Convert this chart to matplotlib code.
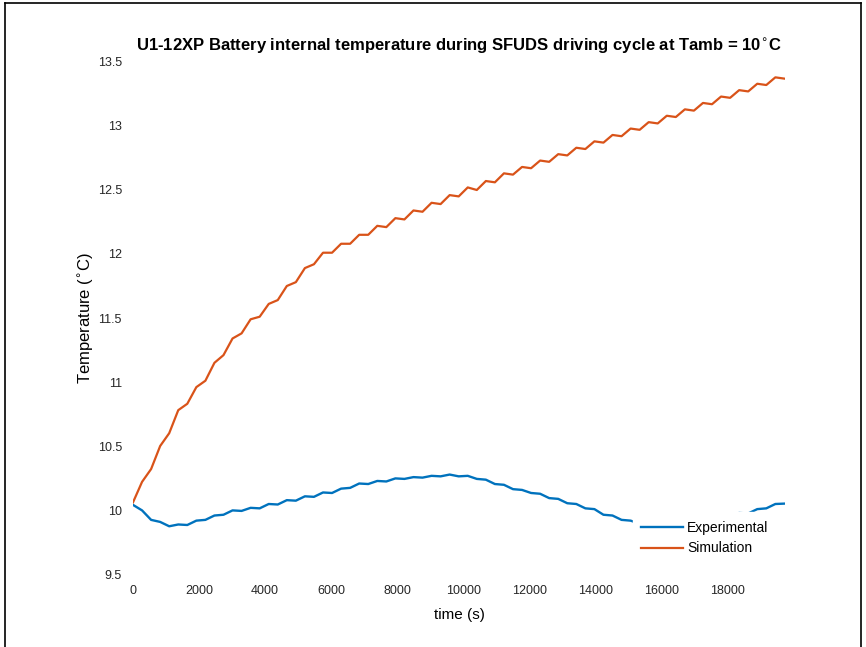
import numpy as np
import matplotlib
matplotlib.use("Agg")
import matplotlib.pyplot as plt
from matplotlib.lines import Line2D

# sample step of the read-off points (s)
step_s = 274

experimental = [
    10.04, 9.997, 9.923, 9.907, 9.873, 9.887, 9.883, 9.917, 9.923, 9.957,
    9.963, 9.997, 9.993, 10.017, 10.013, 10.047, 10.043, 10.077, 10.073, 10.107,
    10.103, 10.137, 10.133, 10.167, 10.173, 10.207, 10.203, 10.227, 10.223, 10.247,
    10.243, 10.257, 10.253, 10.267, 10.263, 10.277, 10.263, 10.267, 10.243, 10.237,
    10.203, 10.197, 10.163, 10.157, 10.133, 10.127, 10.093, 10.087, 10.053, 10.047,
    10.013, 10.007, 9.963, 9.957, 9.923, 9.917, 9.893, 9.897, 9.873, 9.887,
    9.873, 9.897, 9.893, 9.917, 9.923, 9.947, 9.953, 9.977, 9.973, 10.007,
    10.013, 10.047, 10.05,
]

simulation = [
    10.06, 10.22, 10.32, 10.50, 10.60, 10.78, 10.83, 10.96, 11.01, 11.15,
    11.21, 11.34, 11.38, 11.49, 11.51, 11.61, 11.64, 11.75, 11.78, 11.89,
    11.92, 12.01, 12.01, 12.08, 12.08, 12.15, 12.15, 12.22, 12.21, 12.28,
    12.27, 12.34, 12.33, 12.40, 12.39, 12.46, 12.45, 12.52, 12.50, 12.57,
    12.56, 12.63, 12.62, 12.68, 12.67, 12.73, 12.72, 12.78, 12.77, 12.83,
    12.82, 12.88, 12.87, 12.93, 12.92, 12.98, 12.97, 13.03, 13.02, 13.08,
    13.07, 13.13, 13.12, 13.18, 13.17, 13.23, 13.22, 13.28, 13.27, 13.33,
    13.32, 13.38, 13.37,
]

x_ticks = [0, 2000, 4000, 6000, 8000, 10000, 12000, 14000, 16000, 18000]
y_ticks = [9.5, 10, 10.5, 11, 11.5, 12, 12.5, 13, 13.5]

t = np.arange(len(simulation)) * step_s

plt.rcParams['font.family'] = ['Liberation Sans', 'DejaVu Sans']

fig = plt.figure(figsize=(8.66, 6.47), dpi=100)
ax = fig.add_axes([0.1536, 0.1128, 0.753, 0.7914])

ax.plot(t, experimental, color='#0072BD', lw=1.7, label='Experimental')
ax.plot(t, simulation, color='#D95319', lw=1.6, label='Simulation')

ax.set_xlim(0, 19750)
ax.set_ylim(9.5, 13.5)
ax.set_xticks(x_ticks)
ax.set_yticks(y_ticks)
ax.set_yticklabels(['9.5', '10', '10.5', '11', '11.5', '12', '12.5', '13', '13.5'])
ax.tick_params(length=0, labelsize=9, colors='#262626', pad=8)
for s in ax.spines.values():
    s.set_visible(False)

ax.set_title('U1-12XP Battery internal temperature during SFUDS driving cycle at Tamb = 10$^{\\circ}$C',
             fontsize=12, fontweight='bold', pad=8)
ax.set_xlabel('time (s)', fontsize=11, labelpad=8)
ax.set_ylabel('Temperature ($^{\\circ}$C)', fontsize=12, labelpad=1)

leg = ax.legend(loc='center left', bbox_to_anchor=(633 / 866, 1 - 538 / 647),
                bbox_transform=fig.transFigure, frameon=True, fontsize=10,
                handlelength=3.0, handletextpad=0.3, labelspacing=0.5,
                borderpad=0.6, borderaxespad=0)
leg.get_frame().set_edgecolor('white')
leg.get_frame().set_facecolor('white')
leg.get_frame().set_alpha(1)

# figure border
for xs, ys in [([5 / 866, 5 / 866], [0, 1 - 3 / 647]),
               ([5 / 866, 861 / 866], [1 - 3 / 647, 1 - 3 / 647]),
               ([861 / 866, 861 / 866], [1 - 3 / 647, 0])]:
    fig.add_artist(Line2D(xs, ys, color='black', lw=1.2, transform=fig.transFigure))

fig.savefig('out.png', dpi=100)
